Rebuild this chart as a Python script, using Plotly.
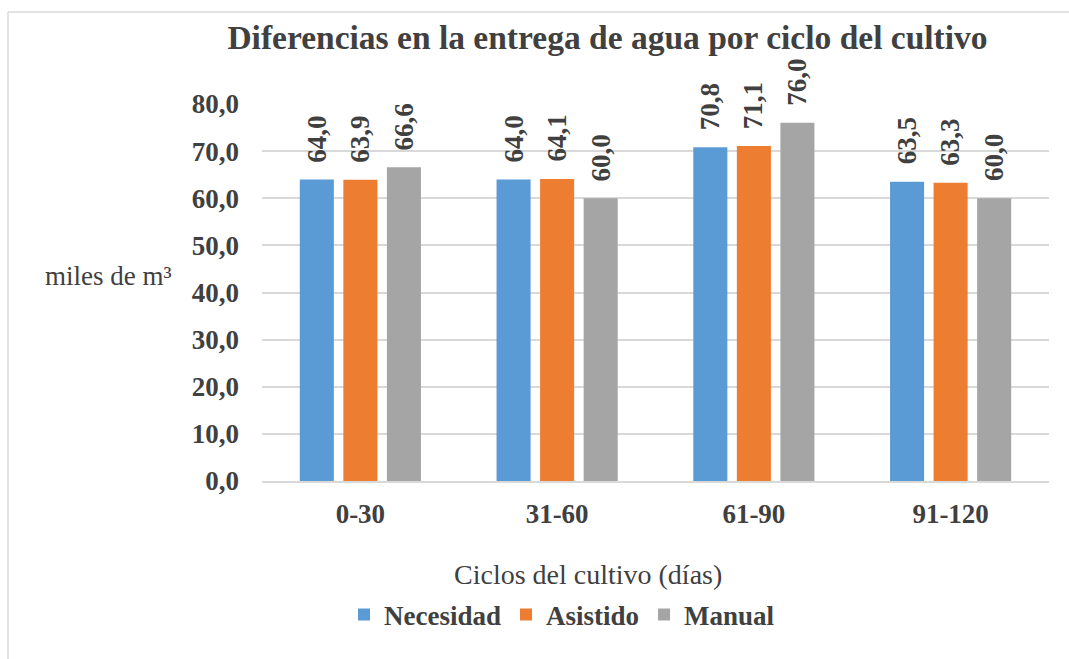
import plotly.graph_objects as go

categorias = ["0-30", "31-60", "61-90", "91-120"]
necesidad = [64.0, 64.0, 70.8, 63.5]
asistido = [63.9, 64.1, 71.1, 63.3]
manual = [66.6, 60.0, 76.0, 60.0]
series_names = ["Necesidad", "Asistido", "Manual"]
series_vals = [necesidad, asistido, manual]
colors = ["#5B9BD5", "#ED7D31", "#A5A5A5"]
y_ticks = [0, 10, 20, 30, 40, 50, 60, 70, 80]

W, H = 1069, 659
L, R, T, B = 262, 20, 104, 178
plot_w = W - L - R
plot_h = H - T - B

FONT = "Liberation Serif"
TXT = "#404040"
BOLD_SIZE = 27

BARGAP = 0.336
GROUPGAP = 0.218

fig = go.Figure()
for name, vals, c in zip(series_names, series_vals, colors):
    fig.add_trace(go.Bar(x=categorias, y=vals, name=name, marker=dict(color=c, line=dict(width=0)),
                         hoverinfo="skip"))

# data labels
cat_w = plot_w / len(categorias)
slot = cat_w * (1 - BARGAP) / len(series_vals)
annotations = []
for i, vals in enumerate(series_vals):
    off = (i - 1) * slot
    for cat, v in zip(categorias, vals):
        annotations.append(dict(
            x=cat, y=v, xref="x", yref="y", text=f"{v:.1f}".replace(".", ","),
            showarrow=False, textangle=-90, xanchor="center", yanchor="bottom",
            xshift=off, yshift=15,
            font=dict(family=FONT, size=BOLD_SIZE, color=TXT, weight="bold"),
        ))


def px_x(px):
    return (px - L) / plot_w


def px_y(py):
    return (H - B - py) / plot_h


annotations.append(dict(
    x=px_x(108), y=px_y(276), xref="paper", yref="paper", text="miles de m³",
    showarrow=False, xanchor="center", yanchor="middle",
    font=dict(family=FONT, size=27, color=TXT),
))
annotations.append(dict(
    x=px_x(588), y=px_y(574), xref="paper", yref="paper", text="Ciclos del cultivo (días)",
    showarrow=False, xanchor="center", yanchor="middle",
    font=dict(family=FONT, size=28, color=TXT),
))

shapes = [
    dict(type="line", xref="paper", yref="paper", x0=px_x(8), x1=px_x(1069), y0=px_y(12), y1=px_y(12),
         line=dict(color="#D9D9D9", width=1.5)),
    dict(type="line", xref="paper", yref="paper", x0=px_x(8), x1=px_x(8), y0=px_y(12), y1=px_y(660),
         line=dict(color="#D9D9D9", width=1.5)),
]

fig.update_layout(
    width=W, height=H,
    margin=dict(l=L, r=R, t=T, b=B, autoexpand=False),
    paper_bgcolor="white", plot_bgcolor="white",
    separators=",.",
    barmode="group", bargap=BARGAP, bargroupgap=GROUPGAP,
    title=dict(text="Diferencias en la entrega de agua por ciclo del cultivo",
               x=607.5 / W, xref="container", xanchor="center",
               y=1 - 37 / H, yref="container", yanchor="middle",
               font=dict(family=FONT, size=33.5, color=TXT, weight="bold")),
    xaxis=dict(showgrid=False, showline=True, linecolor="#D9D9D9", linewidth=1.5,
               ticks="", ticklabelstandoff=8, fixedrange=True,
               tickfont=dict(family=FONT, size=BOLD_SIZE, color=TXT, weight="bold")),
    yaxis=dict(range=[0, 80], tickvals=y_ticks, tickformat=".1f", fixedrange=True,
               showgrid=True, gridcolor="#D9D9D9", gridwidth=1.5, zeroline=False,
               showline=False, ticks="", ticklabelstandoff=22,
               tickfont=dict(family=FONT, size=BOLD_SIZE, color=TXT, weight="bold")),
    legend=dict(orientation="h", x=px_x(562), xanchor="center", y=px_y(615), yanchor="middle",
                font=dict(family=FONT, size=27, color=TXT, weight="bold"),
                itemwidth=30, traceorder="normal", bgcolor="rgba(0,0,0,0)"),
    annotations=annotations,
    shapes=shapes,
    showlegend=True,
)

fig.write_html("out.html", config={"displayModeBar": False},
               post_script="document.body.style.margin='0';")
